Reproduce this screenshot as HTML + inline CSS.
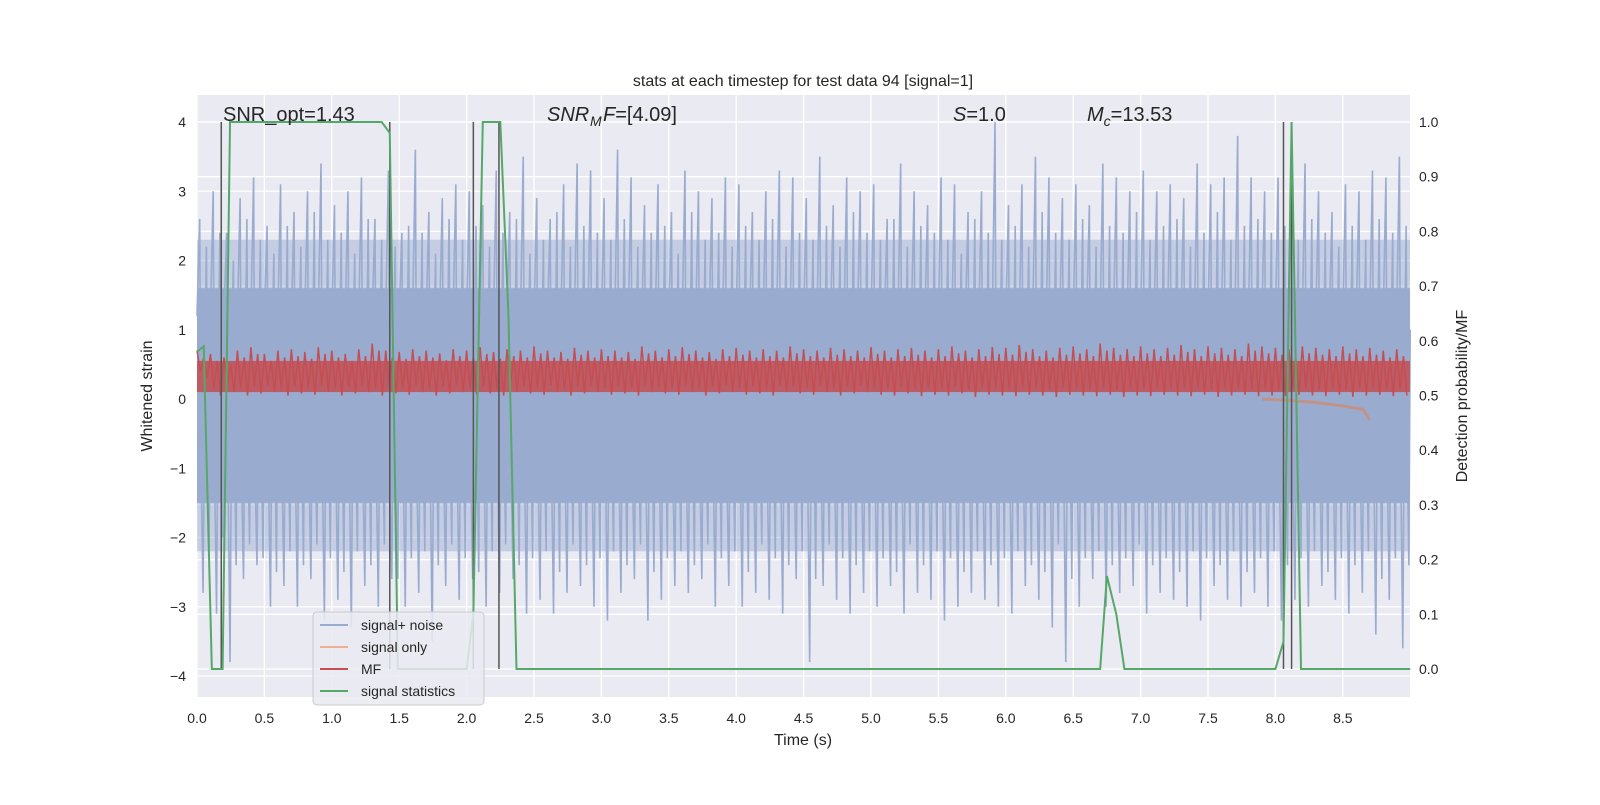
<!DOCTYPE html>
<html><head><meta charset="utf-8"><style>
body{margin:0;background:#fff}
svg text{font-family:"Liberation Sans","DejaVu Sans",sans-serif;fill:#262626}
</style></head><body>
<svg id="c" width="1600" height="800" xmlns="http://www.w3.org/2000/svg"></svg>
<script>
const noiseHi=[2.6,3.0,2.4,2.9,3.2,2.5,3.1,2.7,3.0,3.4,2.8,3.0,3.2,2.6,3.3,2.4,3.6,2.7,2.9,3.1,3.0,2.8,3.3,2.7,3.5,2.9,2.6,3.1,3.4,3.3,2.9,3.6,3.2,2.8,3.1,2.7,3.3,3.0,2.9,3.2,3.1,2.7,3.0,3.3,3.2,2.9,3.5,2.8,3.2,3.0,3.1,2.6,3.4,3.0,2.8,3.2,3.1,2.7,3.0,4.0,2.8,3.1,3.5,3.2,2.9,3.1,2.8,3.4,3.2,3.0,3.3,3.0,3.1,2.9,3.4,3.1,3.2,3.8,3.2,3.0,3.2,2.9,3.4,3.0,2.7,3.1,3.0,3.3,3.2,3.5];
const noiseLo=[-2.8,-3.1,-3.8,-2.6,-2.4,-3.0,-2.7,-3.0,-2.6,-3.2,-2.9,-3.3,-2.7,-3.0,-2.6,-3.0,-2.8,-3.5,-2.7,-2.9,-2.6,-3.0,-2.8,-2.6,-3.1,-2.9,-3.1,-2.8,-2.7,-3.0,-3.2,-2.8,-2.6,-3.2,-2.9,-2.7,-2.8,-2.6,-3.0,-2.7,-3.0,-2.8,-2.9,-3.1,-2.6,-3.8,-2.7,-2.9,-3.1,-2.8,-3.0,-2.7,-3.1,-2.8,-2.9,-3.2,-3.0,-2.8,-2.9,-3.0,-3.1,-2.7,-2.9,-3.3,-3.8,-3.0,-2.6,-3.0,-2.8,-2.7,-3.1,-2.8,-2.9,-3.0,-3.2,-2.7,-2.9,-3.0,-2.8,-3.0,-3.2,-2.9,-3.0,-2.7,-2.9,-3.1,-2.8,-3.4,-2.9,-3.6];
const noiseHi2=[2.2,2.4,2.0,2.6,2.3,2.1,2.5,2.2,2.7,2.3,2.4,2.1,2.6,2.3,2.2,2.5,2.4,2.1,2.6,2.3,2.5,2.2,2.4,2.6,2.1,2.3,2.7,2.2,2.5,2.4,2.3,2.6,2.2,2.4,2.5,2.1,2.7,2.3,2.4,2.2,2.5,2.3,2.6,2.2,2.4,2.3,2.5,2.2,2.7,2.4,2.3,2.6,2.2,2.5,2.4,2.3,2.1,2.6,2.4,2.3,2.5,2.2,2.7,2.4,2.3,2.6,2.2,2.5,2.4,2.7,2.3,2.5,2.6,2.2,2.4,2.7,2.3,2.5,2.6,2.4,2.5,2.3,2.6,2.4,2.2,2.5,2.3,2.6,2.4,2.5];
const noiseLo2=[-2.2,-2.0,-2.4,-2.1,-2.3,-2.5,-2.2,-2.4,-2.1,-2.3,-2.5,-2.2,-2.4,-2.1,-2.6,-2.3,-2.2,-2.4,-2.1,-2.3,-2.5,-2.2,-2.1,-2.4,-2.3,-2.2,-2.5,-2.1,-2.4,-2.3,-2.2,-2.4,-2.1,-2.5,-2.3,-2.2,-2.4,-2.1,-2.3,-2.2,-2.5,-2.1,-2.3,-2.4,-2.2,-2.6,-2.1,-2.3,-2.4,-2.2,-2.3,-2.5,-2.1,-2.4,-2.2,-2.3,-2.5,-2.2,-2.4,-2.3,-2.2,-2.4,-2.5,-2.1,-2.6,-2.3,-2.2,-2.4,-2.3,-2.1,-2.4,-2.3,-2.5,-2.2,-2.3,-2.4,-2.2,-2.5,-2.3,-2.2,-2.4,-2.3,-2.2,-2.5,-2.3,-2.4,-2.2,-2.6,-2.3,-2.4];
const mfHi=[0.7,0.65,0.6,0.7,0.75,0.65,0.7,0.72,0.68,0.75,0.7,0.65,0.72,0.8,0.7,0.68,0.72,0.7,0.66,0.72,0.7,0.75,0.68,0.72,0.7,0.76,0.7,0.68,0.74,0.7,0.72,0.7,0.68,0.76,0.7,0.72,0.75,0.7,0.68,0.72,0.74,0.7,0.72,0.7,0.76,0.72,0.7,0.74,0.72,0.7,0.75,0.7,0.72,0.74,0.7,0.72,0.76,0.7,0.72,0.75,0.74,0.78,0.72,0.7,0.74,0.76,0.72,0.8,0.74,0.72,0.76,0.72,0.74,0.78,0.72,0.76,0.74,0.72,0.8,0.76,0.74,0.72,0.76,0.74,0.72,0.76,0.72,0.74,0.7,0.72];
const mfLo=[0.3,0.05,0.1,0.05,0.08,0.1,0.05,0.08,0.06,0.1,0.05,0.08,0.1,0.05,0.08,0.06,0.1,0.05,0.08,0.1,0.06,0.08,0.05,0.1,0.08,0.06,0.1,0.05,0.08,0.1,0.06,0.08,0.05,0.1,0.08,0.06,0.1,0.05,0.08,0.1,0.06,0.08,0.05,0.1,0.08,0.06,0.1,0.05,0.08,0.1,0.06,0.05,0.08,0.04,0.06,0.05,0.08,0.03,0.06,0.05,0.04,0.06,0.05,0.03,0.06,0.05,0.04,0.06,0.03,0.05,0.04,0.06,0.05,0.04,0.06,0.03,0.05,0.06,0.04,0.05,0.04,0.06,0.05,0.04,0.06,0.03,0.05,0.06,0.04,0.05];
const statT=[0,0.05,0.11,0.19,0.245,1.37,1.43,1.49,2.0,2.05,2.12,2.25,2.31,2.37,6.7,6.75,6.82,6.88,8.0,8.06,8.12,8.19,9.0];
const statP=[0.58,0.59,0,0,1,1,0.98,0,0,0.1,1,1,0.65,0,0,0.17,0.1,0,0,0.05,1,0,0];
const sigT=[7.9,8.1,8.3,8.5,8.65,8.7];
const sigV=[0,-0.02,-0.05,-0.1,-0.15,-0.3];
const vlines=[0.18,1.43,2.05,2.24,8.06,8.12];
const xTicks=[0,0.5,1,1.5,2,2.5,3,3.5,4,4.5,5,5.5,6,6.5,7,7.5,8,8.5];
const yTicks=[-4,-3,-2,-1,0,1,2,3,4];
const pTicks=[0,0.1,0.2,0.3,0.4,0.5,0.6,0.7,0.8,0.9,1.0];

const X0=197,X1=1410,Y0=95,Y1=697;
const sx=t=>197+t*134.8;
const sy=v=>399-v*69.25;
const sp=p=>669-p*547;
const svg=document.getElementById('c');
function el(tag,a,txt){const e=document.createElementNS('http://www.w3.org/2000/svg',tag);for(const k in a)e.setAttribute(k,a[k]);if(txt!==undefined)e.textContent=txt;svg.appendChild(e);return e;}
let e;
e=el('rect',{x:X0,y:Y0,width:X1-X0,height:Y1-Y0,fill:'#eaeaf2'});


yTicks.forEach(v=>{e=el('line',{x1:X0,x2:X1,y1:sy(v),y2:sy(v),stroke:'#fff','stroke-width':1.3});

});
pTicks.forEach(p=>{e=el('line',{x1:X0,x2:X1,y1:sp(p),y2:sp(p),stroke:'#fff','stroke-width':1.3});

});
xTicks.forEach(t=>{e=el('line',{x1:sx(t),x2:sx(t),y1:Y0,y2:Y1,stroke:'#fff','stroke-width':1.3});

});
// noise fade zones
e=el('rect',{x:X0,y:sy(2.3),width:X1-X0,height:sy(-2.2)-sy(2.3),fill:'#9aabd0',opacity:0.45});


e=el('rect',{x:X0,y:sy(1.6),width:X1-X0,height:sy(-1.5)-sy(1.6),fill:'#9aabd0'});


let pts=[];
noiseHi.forEach((v,i)=>{const t=i*0.1;pts.push(sx(t)+','+sy(1.2),sx(t+0.02)+','+sy(v),sx(t+0.03)+','+sy(-1.0),sx(t+0.045)+','+sy(noiseLo[i]),sx(t+0.06)+','+sy(1.0),sx(t+0.07)+','+sy(noiseHi2[i]),sx(t+0.08)+','+sy(-1.0),sx(t+0.09)+','+sy(noiseLo2[i]),sx(t+0.1)+','+sy(1.0));});
e=el('polyline',{points:pts.join(' '),fill:'none',stroke:'#9aabd0','stroke-width':1.6});


e=el('polyline',{points:sigT.map((t,i)=>sx(t)+','+sy(sigV[i])).join(' '),fill:'none',stroke:'#dd8452','stroke-width':3,opacity:0.6});


pts=[];
mfHi.forEach((v,i)=>{const t=i*0.1;pts.push(sx(t)+','+sy(v),sx(t+0.025)+','+sy(mfLo[i]+0.1),sx(t+0.05)+','+sy(v-0.1),sx(t+0.075)+','+sy(mfLo[i]));});
e=el('rect',{x:X0,y:sy(0.55),width:X1-X0,height:sy(0.1)-sy(0.55),fill:'#c44e52',opacity:0.85});


e=el('polyline',{points:pts.join(' '),fill:'none',stroke:'#c44e52','stroke-width':1.5});


vlines.forEach(t=>{e=el('line',{x1:sx(t),x2:sx(t),y1:sp(1),y2:sp(0),stroke:'#555','stroke-width':1.5});

});
e=el('polyline',{points:statT.map((t,i)=>sx(t)+','+sp(statP[i])).join(' '),fill:'none',stroke:'#55a868','stroke-width':2});


xTicks.forEach(t=>{e=el('text',{x:sx(t),y:723,'font-size':14,'text-anchor':'middle'},t.toFixed(1));

});
yTicks.forEach(v=>{e=el('text',{x:186,y:sy(v)+5,'font-size':14,'text-anchor':'end'},v<0?'\u2212'+(-v):String(v));

});
pTicks.forEach(p=>{e=el('text',{x:1419,y:sp(p)+5,'font-size':14},p.toFixed(1));

});
e=el('text',{x:803,y:745,'font-size':16,'text-anchor':'middle'},'Time (s)');


e=el('text',{x:0,y:0,'font-size':16,'text-anchor':'middle',transform:'translate(152,396) rotate(-90)'},'Whitened strain');


e=el('text',{x:0,y:0,'font-size':16,'text-anchor':'middle',transform:'translate(1467,396) rotate(-90)'},'Detection probability/MF');


e=el('text',{x:803,y:86,'font-size':16,'text-anchor':'middle'},'stats at each timestep for test data 94 [signal=1]');


e=el('text',{x:223,y:121,'font-size':20},'SNR_opt=1.43');


e=el('text',{x:547,y:121,'font-size':20,'font-style':'italic'},'SNR');


e=el('text',{x:590,y:126,'font-size':14,'font-style':'italic'},'M');


e=el('text',{x:603,y:121,'font-size':20},'');
e.innerHTML='<tspan font-style="italic">F</tspan>=[4.09]';


e=el('text',{x:953,y:121,'font-size':20},'');
e.innerHTML='<tspan font-style="italic">S</tspan>=1.0';


e=el('text',{x:1087,y:121,'font-size':20},'');
e.innerHTML='<tspan font-style="italic">M</tspan><tspan font-size="14" font-style="italic" dy="5">c</tspan><tspan dy="-5">=13.53</tspan>';


e=el('rect',{x:313,y:612,width:171,height:93,rx:4,fill:'#eaeaf2',stroke:'#ccc','fill-opacity':0.85});


const legN=['signal+ noise','signal only','MF','signal statistics'];
const legC=['#9aabd0','#eeb092','#c44e52','#55a868'];
legN.forEach((n,i)=>{const y=625+i*22;
e=el('line',{x1:320,x2:348,y1:y,y2:y,stroke:legC[i],'stroke-width':2});


e=el('text',{x:361,y:y+5,'font-size':14},n);

});
</script>
</body></html>
